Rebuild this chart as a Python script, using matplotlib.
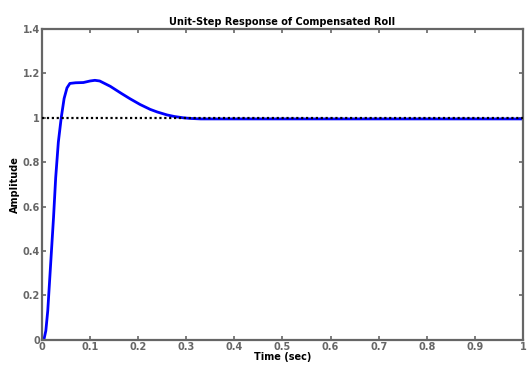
import matplotlib.pyplot as plt
import numpy as np

# step response
t = [0, 0.004, 0.008, 0.012, 0.016, 0.02, 0.024, 0.0285, 0.034, 0.04, 0.046,
     0.052, 0.058, 0.07, 0.086, 0.1, 0.11, 0.12, 0.142, 0.165, 0.183, 0.204,
     0.225, 0.24, 0.26, 0.275, 0.294, 0.31, 0.33, 0.36, 0.4, 0.5, 0.6, 0.7,
     0.8, 0.9, 1.0]
amp = [0, 0.0, 0.04, 0.13, 0.27, 0.41, 0.55, 0.73, 0.89, 1.0, 1.087,
       1.135, 1.155, 1.158, 1.159, 1.166, 1.169, 1.166, 1.142, 1.11, 1.086, 1.06,
       1.038, 1.026, 1.013, 1.006, 1.0, 0.997, 0.995, 0.995, 0.995, 0.995, 0.995, 0.995,
       0.995, 0.995, 0.995]

xticks = [0, 0.1, 0.2, 0.3, 0.4, 0.5, 0.6, 0.7, 0.8, 0.9, 1]
xlabels = ["0", "0.1", "0.2", "0.3", "0.4", "0.5", "0.6", "0.7", "0.8", "0.9", "1"]
yticks = [0, 0.2, 0.4, 0.6, 0.8, 1, 1.2, 1.4]
ylabels = ["0", "0.2", "0.4", "0.6", "0.8", "1", "1.2", "1.4"]

fig = plt.figure(figsize=(5.28, 3.68), dpi=100)
ax = fig.add_axes([0.0795, 0.077, 0.911, 0.844])

ax.plot(t, amp, color="#0000FF", linewidth=2.0, zorder=2)
ax.plot([0, 1], [1, 1], color="black", linestyle=(0, (1, 1.2)), linewidth=1.6, zorder=3)

ax.set_xlim(0, 1)
ax.set_ylim(0, 1.4)
ax.set_xticks(xticks)
ax.set_xticklabels(xlabels)
ax.set_yticks(yticks)
ax.set_yticklabels(ylabels)

grey = "#666666"
for s in ax.spines.values():
    s.set_color(grey)
    s.set_linewidth(1.6)
ax.tick_params(direction="in", top=True, right=True, length=3, width=1.2,
               color=grey, labelcolor=grey, labelsize=7, pad=1.5)
for lab in ax.get_xticklabels() + ax.get_yticklabels():
    lab.set_fontweight("bold")

ax.set_title("Unit-Step Response of Compensated Roll", fontsize=7, fontweight="bold", pad=3)
ax.set_xlabel("Time (sec)", fontsize=7, fontweight="bold", labelpad=0)
ax.set_ylabel("Amplitude", fontsize=7, fontweight="bold", labelpad=2)

fig.savefig("out.png", dpi=100)
